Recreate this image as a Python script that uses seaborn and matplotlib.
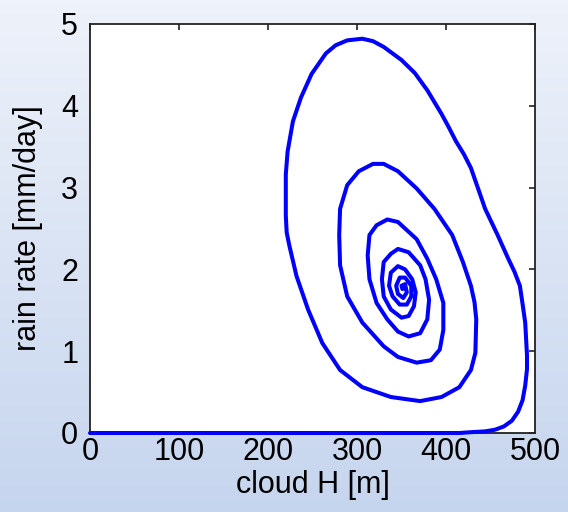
import numpy as np
import pandas as pd
import matplotlib
matplotlib.use("Agg")
import matplotlib.pyplot as plt
from matplotlib.colors import LinearSegmentedColormap
import seaborn as sns

# Trajectory (cloud depth H [m], rain rate [mm/day])
cloud_H = [0, 100, 200, 300, 415, 428, 444, 455, 465, 474, 481, 486, 489, 491,
           491, 490, 489, 486, 483, 477, 470, 458, 444, 436, 428, 420, 411, 403,
           395, 379, 365, 350, 330, 318, 306, 289, 276, 265, 249, 237, 228, 222,
           220, 220, 221, 224, 232, 245, 261, 281, 306, 338, 371, 395, 415, 428,
           433, 434, 432, 428, 419, 407, 387, 367, 346, 330, 318, 302, 289, 281,
           280, 281, 289, 306, 330, 346, 367, 383, 393, 397, 397, 389, 379, 367,
           346, 334, 322, 314, 312, 314, 322, 334, 346, 358, 371, 379, 381, 377,
           371, 358, 346, 338, 330, 328, 330, 338, 350, 358, 364, 366, 362, 354,
           346, 338, 336, 340, 348, 356, 361, 361, 354, 348, 344, 346, 352, 356,
           354, 350, 351, 353]
rain_rate = [0, 0, 0, 0, 0, 0.01, 0.02, 0.04, 0.08, 0.15, 0.26, 0.40, 0.58, 0.78,
             0.95, 1.15, 1.35, 1.58, 1.80, 1.97, 2.13, 2.42, 2.74, 2.99, 3.24, 3.41,
             3.57, 3.74, 3.90, 4.19, 4.40, 4.56, 4.72, 4.79, 4.82, 4.80, 4.74, 4.64,
             4.39, 4.10, 3.81, 3.44, 3.16, 2.66, 2.45, 2.29, 1.92, 1.51, 1.10, 0.77,
             0.56, 0.44, 0.39, 0.44, 0.56, 0.77, 0.98, 1.39, 1.60, 1.80, 2.09, 2.42,
             2.74, 2.99, 3.20, 3.29, 3.29, 3.20, 3.03, 2.74, 2.42, 2.05, 1.67, 1.35,
             1.06, 0.93, 0.86, 0.89, 1.02, 1.26, 1.59, 1.88, 2.13, 2.37, 2.58, 2.61,
             2.54, 2.42, 2.17, 1.88, 1.59, 1.39, 1.24, 1.18, 1.22, 1.39, 1.63, 1.88,
             2.05, 2.21, 2.25, 2.19, 2.09, 1.88, 1.67, 1.51, 1.41, 1.43, 1.55, 1.72,
             1.88, 2.00, 2.04, 1.96, 1.80, 1.67, 1.57, 1.57, 1.67, 1.80, 1.90, 1.90,
             1.80, 1.70, 1.65, 1.72, 1.82, 1.80, 1.76, 1.77]
x_ticks = [0, 100, 200, 300, 400, 500]
y_ticks = [0, 1, 2, 3, 4, 5]

df = pd.DataFrame({"cloud H [m]": cloud_H, "rain rate [mm/day]": rain_rate})

sns.set_theme(style="white")
plt.rcParams["font.family"] = ["Liberation Sans", "DejaVu Sans"]

fig = plt.figure(figsize=(5.68, 5.12), dpi=100)

# gradient background
bg = fig.add_axes([0, 0, 1, 1], zorder=-10)
cmap = LinearSegmentedColormap.from_list("bg", ["#c6d5ee", "#eef2fa"])
grad = np.linspace(0, 1, 256).reshape(-1, 1)
bg.imshow(grad, aspect="auto", cmap=cmap, origin="lower", extent=[0, 1, 0, 1])
bg.axis("off")

ax = fig.add_axes([90 / 568, 1 - 433 / 512, 445 / 568, 409 / 512])
ax.set_facecolor("white")
sns.lineplot(data=df, x="cloud H [m]", y="rain rate [mm/day]", sort=False,
             estimator=None, color="#0000ff", linewidth=2.9, ax=ax,
             clip_on=False, zorder=5)
ax.set_xlim(0, 500)
ax.set_ylim(0, 5)
ax.set_xticks(x_ticks)
ax.set_yticks(y_ticks)
ax.set_xticklabels([str(t) for t in x_ticks])
ax.set_yticklabels([str(t) for t in y_ticks])
ax.tick_params(axis="both", direction="in", length=4, width=1.2, color="#222222",
               labelsize=22, labelcolor="black", top=True, right=True)
ax.tick_params(axis="x", pad=3)
ax.tick_params(axis="y", pad=8.5)
for s in ax.spines.values():
    s.set_visible(True)
    s.set_color("#222222")
    s.set_linewidth(1.3)
ax.set_xlabel("cloud H [m]", fontsize=22, labelpad=2, color="black")
ax.set_ylabel("rain rate [mm/day]", fontsize=22, labelpad=13, color="black")

fig.savefig("out.png", dpi=100)
